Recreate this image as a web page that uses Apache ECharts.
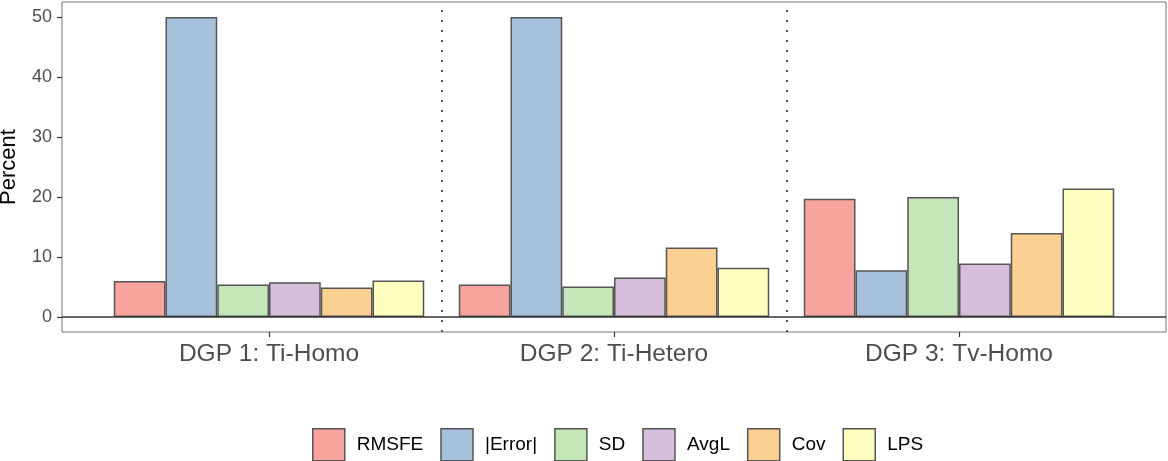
<!DOCTYPE html>
<html>
<head>
<meta charset="utf-8">
<script src="https://cdn.jsdelivr.net/npm/echarts@6/dist/echarts.min.js"></script>
<style>
  html, body { margin: 0; padding: 0; background: #fff; }
  #main { width: 1168px; height: 461px; }
</style>
</head>
<body>
<div id="main"></div>
<script>
const categories = ['DGP 1: Ti-Homo', 'DGP 2: Ti-Hetero', 'DGP 3: Tv-Homo']
const measures = ['RMSFE', '|Error|', 'SD', 'AvgL', 'Cov', 'LPS']
const rmsfe = [6.0, 5.4, 19.7]
const absError = [50.0, 50.0, 7.8]
const sd = [5.4, 5.1, 20.0]
const avgL = [5.8, 6.6, 8.9]
const cov = [4.9, 11.6, 14.0]
const lps = [6.1, 8.2, 21.4]
const yTicks = [0, 10, 20, 30, 40, 50]
const colors = ['#f7a39e', '#a7c1dc', '#c4e6b9', '#d6bedc', '#fccf93', '#ffffc0']

const font = "'Liberation Sans', Arial, sans-serif"
const chart = echarts.init(document.getElementById('main'))

const values = [rmsfe, absError, sd, avgL, cov, lps]
const barSeries = measures.map((name, i) => ({
  name: name,
  type: 'bar',
  xAxisIndex: 1,
  yAxisIndex: 1,
  data: values[i],
  barGap: '0%',
  barCategoryGap: '10%',
  itemStyle: { color: colors[i], borderColor: '#555', borderWidth: 1.5 }
}))

chart.setOption({
  animation: false,
  textStyle: { fontFamily: font },
  grid: [
    { left: 62, top: 2, width: 1104, height: 330, outerBoundsMode: 'none', containLabel: false,
      show: true, borderColor: '#777', borderWidth: 1, backgroundColor: '#fff' },
    { left: 96.5, top: 2, width: 1035, height: 330, outerBoundsMode: 'none', containLabel: false }
  ],
  xAxis: [
    { type: 'value', gridIndex: 0, min: 0.4, max: 3.6, show: false },
    {
      type: 'category', gridIndex: 1, data: categories,
      axisLine: { show: false, onZero: false },
      axisTick: { show: true, alignWithLabel: true, length: 5, lineStyle: { color: '#333', width: 1.2 } },
      axisLabel: { fontSize: 24.5, color: '#4d4d4d', margin: 10, fontFamily: font }
    }
  ],
  yAxis: [
    {
      type: 'value', gridIndex: 0, min: -2.5, max: 52.5,
      name: 'Percent', nameLocation: 'middle', nameGap: 42,
      nameTextStyle: { fontSize: 22, color: '#000', fontFamily: font },
      axisLine: { show: false, onZero: false },
      splitLine: { show: false },
      axisTick: { show: true, length: 5, customValues: yTicks, lineStyle: { color: '#333', width: 1.2 } },
      axisLabel: { fontSize: 18, color: '#4d4d4d', margin: 10, customValues: yTicks, fontFamily: font }
    },
    { type: 'value', gridIndex: 1, min: -2.5, max: 52.5, show: false }
  ],
  legend: {
    data: measures,
    left: 312,
    top: 428,
    padding: 0,
    icon: 'rect',
    itemWidth: 32,
    itemHeight: 32,
    itemGap: 17,
    itemStyle: { borderColor: '#555', borderWidth: 1.5 },
    textStyle: { fontSize: 19, color: '#000', padding: [0, 0, 0, 7], fontFamily: font }
  },
  series: [
    {
      name: 'guides',
      type: 'line',
      xAxisIndex: 0,
      yAxisIndex: 0,
      data: [],
      silent: true,
      markLine: {
        symbol: 'none',
        silent: true,
        label: { show: false },
        data: [
          { yAxis: 0, lineStyle: { color: '#333', width: 1.5, type: 'solid' } },
          { xAxis: 1.5, lineStyle: { color: '#555', width: 2, type: [2, 8] } },
          { xAxis: 2.5, lineStyle: { color: '#555', width: 2, type: [2, 8] } }
        ]
      }
    },
    ...barSeries
  ]
})
</script>
</body>
</html>
